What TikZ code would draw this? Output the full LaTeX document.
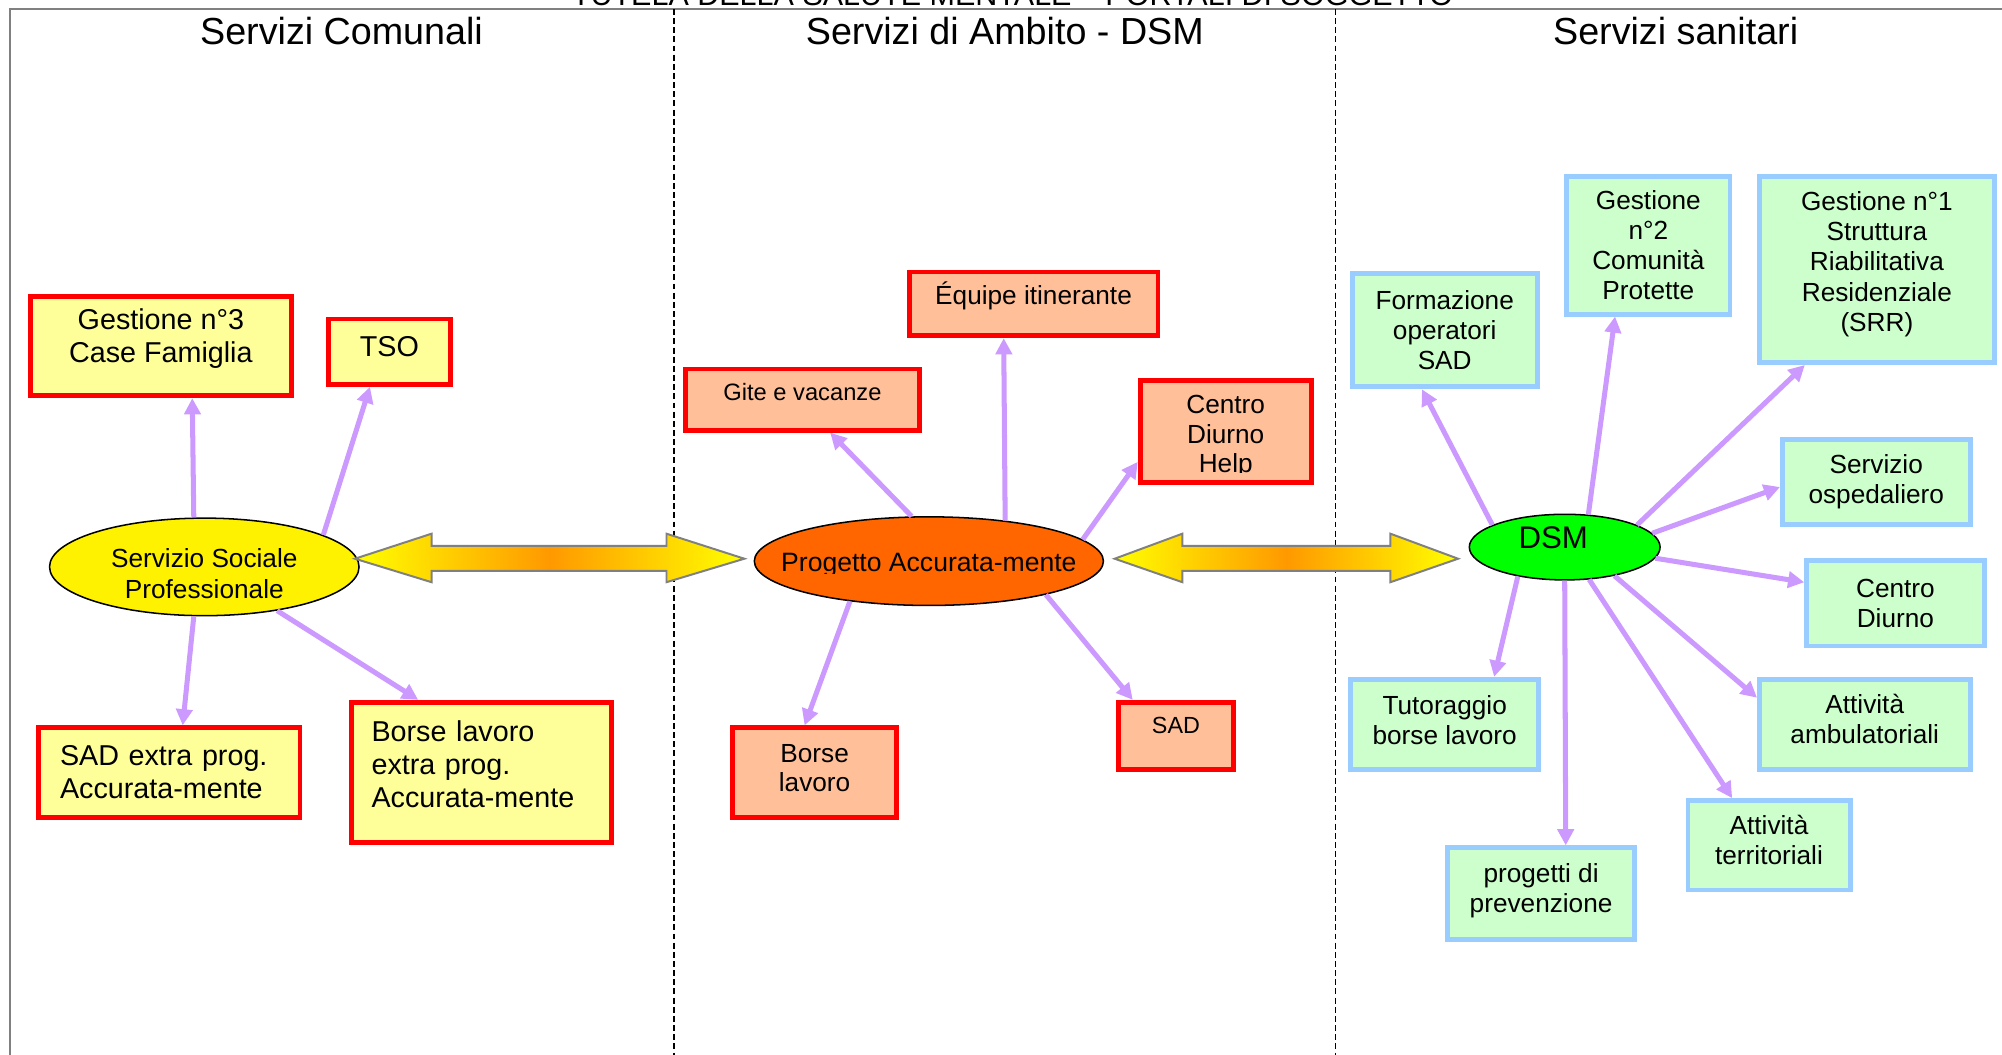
\documentclass[tikz,border=0pt]{standalone}
\usepackage{fontspec}
\setmainfont{Liberation Sans}
\usetikzlibrary{arrows.meta,shapes.geometric}

\definecolor{lilac}{HTML}{CC99FF}
\definecolor{comfill}{HTML}{FFFF99}
\definecolor{ambfill}{HTML}{FFC099}
\definecolor{sanfill}{HTML}{CCFFCC}
\definecolor{sanline}{HTML}{99CCFF}
\definecolor{progorange}{HTML}{FF6600}
\definecolor{amber}{HTML}{FF9900}
\definecolor{framegray}{HTML}{808080}

% struts to push a node's text up (depth) or down (height)
\newcommand{\lowstrut}[1]{\rule[-#1]{0pt}{#1}}
\newcommand{\highstrut}[1]{\rule{0pt}{#1}}
% shaded two-headed block arrow: left tip, left base, right base, right tip
\newcommand{\blockarrow}[4]{%
  \shadedraw[bigarrow] (#1,-10.94) -- (#2,-10.45) -- (#2,-10.69) -- (#3,-10.69)
    -- (#3,-10.45) -- (#4,-10.94) -- (#3,-11.4) -- (#3,-11.18) -- (#2,-11.18)
    -- (#2,-11.4) -- cycle;}

\begin{document}
\begin{tikzpicture}[
box/.style={draw, rectangle, line width=2.7pt, align=center, inner sep=0pt},
combox/.style={box, draw=red, fill=comfill, font=\fontsize{16}{18.5}\selectfont},
ambbox/.style={box, draw=red, fill=ambfill, font=\fontsize{14.6}{16.6}\selectfont},
sanbox/.style={box, draw=sanline, fill=sanfill, font=\fontsize{14.6}{16.8}\selectfont},
hub/.style={draw, ellipse, line width=0.85pt, inner sep=0pt},
link/.style={draw=lilac, line width=2.8pt, -{Triangle[length=9pt,width=9pt]}},
heading/.style={font=\fontsize{21}{25}\selectfont},
divider/.style={line width=0.9pt, dash pattern=on 3.3pt off 1.8pt},
frameline/.style={draw=framegray, line width=1.1pt},
bigarrow/.style={draw=framegray, line width=1.1pt, line join=miter, left color=yellow, right color=yellow, middle color=amber}
]
\useasboundingbox (0,0) rectangle (39.2,-20.65);

% frame and column separators
\draw[frameline] (0.1875,-20.65) -- (0.1875,-0.175) -- (39.2,-0.175);
\draw[divider] (13.2,-0.175) -- (13.2,-20.65);
\draw[divider] (26.15,-0.175) -- (26.15,-20.65);

\node[anchor=base, font=\fontsize{17}{20}\selectfont] (titolo) at (19.825,-0.1) {TUTELA DELLA SALUTE MENTALE – PORTALI DI SOGGETTO};
\node[heading] (comunali) at (6.6875,-0.61) {Servizi Comunali};
\node[heading] (ambito) at (19.675,-0.61) {Servizi di Ambito - DSM};
\node[heading] (sanitari) at (32.81,-0.61) {Servizi sanitari};

% servizi comunali
\node[combox, minimum width=5.1cm, minimum height=1.95cm] (gest3) at (3.15,-6.775) {Gestione n°3\\Case Famiglia\lowstrut{0.42cm}};
\node[combox, minimum width=2.4cm, minimum height=1.28cm] (tso) at (7.625,-6.8875) {TSO\lowstrut{0.225cm}};
\node[hub, fill=yellow, minimum width=6.06cm, minimum height=1.91cm, align=center, font=\fontsize{14.6}{17}\selectfont] (sociale) at (4.0,-11.1) {\highstrut{0.645cm}Servizio Sociale\\Professionale};
\node[combox, align=left, text width=4.275cm, minimum width=5.125cm, minimum height=1.75cm] (sadextra) at (3.3125,-15.125) {SAD extra prog.\\Accurata-mente};
\node[combox, align=left, text width=4.3cm, minimum width=5.1cm, minimum height=2.75cm] (borseextra) at (9.425,-15.125) {Borse lavoro\\extra prog.\\Accurata-mente\lowstrut{0.325cm}};

% servizi di ambito
\node[ambbox, minimum width=4.875cm, minimum height=1.25cm] (equipe) at (20.2375,-5.95) {Équipe itinerante\lowstrut{0.41cm}};
\node[ambbox, font=\fontsize{13.2}{15}\selectfont, minimum width=4.575cm, minimum height=1.2cm] (gite) at (15.7125,-7.825) {Gite e vacanze\lowstrut{0.3cm}};
\node[ambbox, minimum width=3.35cm, minimum height=2.0cm] (help) at (24.0,-8.45) {};
\node[hub, fill=progorange, minimum width=6.835cm, minimum height=1.735cm] (progetto) at (18.1875,-10.9875) {};
\node[ambbox, minimum width=3.2cm, minimum height=1.75cm] (borse) at (15.95,-15.125) {Borse\\lavoro\lowstrut{0.175cm}};
\node[ambbox, font=\fontsize{13}{15}\selectfont, minimum width=2.25cm, minimum height=1.325cm] (sad) at (23.025,-14.4125) {SAD\lowstrut{0.425cm}};

% text boxes that overflow get cut at the bottom
\begin{scope}
\clip (22.4,-9.25) rectangle (25.6,-7.5);
\node[align=center, font=\fontsize{14.6}{16.4}\selectfont] (helptext) at (24.0,-8.55) {Centro\\Diurno\\Help};
\end{scope}
\begin{scope}
\clip (14.5,-11.235) rectangle (22,-10.2);
\node[anchor=base, font=\fontsize{14.8}{17}\selectfont] (progtext) at (18.1875,-11.19) {Progetto Accurata-mente};
\end{scope}

% servizi sanitari
\node[hub, fill=green, minimum width=3.735cm, minimum height=1.285cm, font=\fontsize{17.4}{20}\selectfont] (dsm) at (30.6375,-10.7125) {DSM\hspace{0.45cm}\lowstrut{0.36cm}};
\node[sanbox, minimum width=3.625cm, minimum height=2.225cm] (formazione) at (28.2875,-6.4625) {Formazione\\operatori\\SAD};
\node[sanbox, minimum width=3.2cm, minimum height=2.7cm] (gest2) at (32.275,-4.8) {Gestione\\n°2\\Comunità\\Protette};
\node[sanbox, minimum width=4.6cm, minimum height=3.65cm] (gest1) at (36.75,-5.275) {Gestione n°1\\Struttura\\Riabilitativa\\Residenziale\\(SRR)\lowstrut{0.31cm}};
\node[sanbox, minimum width=3.675cm, minimum height=1.675cm] (ospedale) at (36.7375,-9.4375) {Servizio\\ospedaliero};
\node[sanbox, minimum width=3.475cm, minimum height=1.675cm] (diurno) at (37.1125,-11.8125) {Centro\\Diurno};
\node[sanbox, minimum width=4.125cm, minimum height=1.775cm] (ambulatorio) at (36.5125,-14.1875) {Attività\\ambulatoriali\lowstrut{0.225cm}};
\node[sanbox, minimum width=3.175cm, minimum height=1.75cm] (territorio) at (34.6375,-16.55) {Attività\\territoriali\lowstrut{0.2cm}};
\node[sanbox, minimum width=3.65cm, minimum height=1.8cm] (prevenzione) at (30.175,-17.5) {progetti di\\prevenzione\lowstrut{0.23cm}};
\node[sanbox, minimum width=3.675cm, minimum height=1.775cm] (tutoraggio) at (28.2875,-14.1875) {Tutoraggio\\borse lavoro\lowstrut{0.175cm}};

% block arrows between the three hubs
\blockarrow{6.95}{8.45}{13.05}{14.575}
\blockarrow{21.825}{23.15}{27.225}{28.55}

% links
\draw[link] (sociale.102) -- (gest3.-59);
\draw[link] (sociale.15) -- (tso.-119);
\draw[link] (sociale.-102) -- (sadextra.74);
\draw[link] (sociale.-31) -- (borseextra.131);

\draw[link] (progetto.111) -- (gite.-50);
\draw[link] (progetto.28) -- (equipe.-131);
\draw[link] (progetto.8) -- (help.-161);
\draw[link] (progetto.-153) -- (borse.102);
\draw[link] (progetto.-16) -- (sad.140);

\draw[link] (dsm.163) -- (formazione.-111);
\draw[link] (dsm.54) -- (gest2.-115);
\draw[link] (dsm.17) -- (gest1.-127);
\draw[link] (dsm.9) -- (ospedale.-177);
\draw[link] (dsm.-7) -- (diurno.167);
\draw[link] (dsm.-30) -- (ambulatorio.166);
\draw[link] (dsm.-53) -- (territorio.128);
\draw[link] (dsm.-90) -- (prevenzione.63);
\draw[link] (dsm.-148) -- (tutoraggio.44);
\end{tikzpicture}
\end{document}
